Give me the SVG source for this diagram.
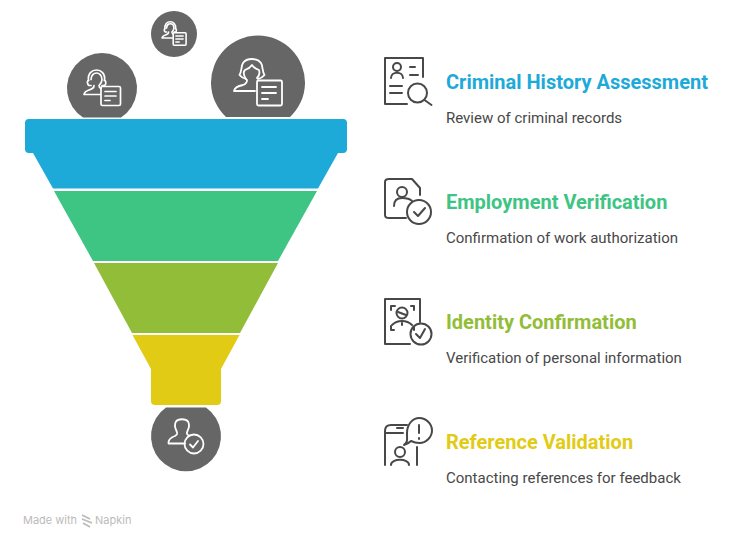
<svg xmlns="http://www.w3.org/2000/svg" width="744" height="548" viewBox="0 0 744 548">
<style>
.t{font-family:Roboto,"Liberation Sans",sans-serif;font-size:20px;font-weight:700}
.d{font-family:Roboto,"Liberation Sans",sans-serif;font-size:15px;fill:#484848}
.c{fill:#666}
.w{fill:none;stroke:#fff;stroke-linecap:round;stroke-linejoin:round}
.k{fill:none;stroke:#484848;stroke-width:2;stroke-linecap:round;stroke-linejoin:round}
</style>
<defs>
<g id="headset">
<path d="M4.500 11C3.500 4 8 0.500 12.500 0.500C17 0.500 21.500 4 20.500 11"/>
<path d="M4.500 11C3 11 3 15 5 16H7M20.500 11C22 11 22.500 15 20.500 16H18"/>
<path d="M7 10C7 5.500 10 3.500 12.500 3.500C15 3.500 18 5.500 18 10C18 13 16 15 15 16C15 18 16 18.500 17 19M10 16C10 19 8 19.500 5 20.500C2 21.500 0.500 22.500 0 25H16"/>
<rect x="17" y="17" width="19.500" height="19" rx="1.500"/>
<path d="M21 22H32M21 26.500H32M21 31H26"/>
</g>
</defs>
<g id="connectors"></g>
<g id="funnel-top-people">
<g id="person-left"><path class="c" d="M83 117.500A35 35 0 1 1 121 117.500Z"/><use href="#headset" class="w" stroke-width="1.700" transform="translate(84 69.500)"/></g>
<g id="person-small"><circle class="c" cx="174" cy="34" r="23"/><use href="#headset" class="w" stroke-width="2.400" transform="translate(162 21.500) scale(.66)"/></g>
<g id="person-big"><path class="c" d="M226 117A47 47 0 1 1 290 117Z"/>
<g class="w" stroke-width="1.800"><path d="M246 79C243 78 241 77 239.500 75C242 71 241 66 243 63C245 60 248 59 252 59C256 59 259 60 261 63C263 66 262 71 264.500 75C263 77 261 78 258 79"/><path d="M246 79C244 76 243 72 245 70C248 69 250 68 252 65C254 68 256 69 259 70C260 73 259 76 257 78M247 80C247 83 246 84 243 85C238 86 234.500 88 234 91H255"/><rect x="257" y="80.500" width="25" height="25" rx="1.500"/><path d="M262 87H276M262 93H276M262 99H268"/></g></g>
</g>
<g id="funnel">
<path id="layer-1" fill="#1eaad9" d="M29 119H343Q347 119 347 123V149Q347 153 343 153H338L318 188.500H53L33 153H29Q25 153 25 149V123Q25 119 29 119Z"/>
<path id="layer-2" fill="#3ec483" d="M54 191H317L278 261H93Z"/>
<path id="layer-3" fill="#92bd39" d="M94 263H278L240 333H132Z"/>
<path id="layer-4" fill="#e1cb14" d="M132.500 335H239.500L221 369V401Q221 405 217 405H155Q151 405 151 401V369Z"/>
</g>
<g id="person-bottom"><path class="c" d="M166 407.500H206A35 35 0 1 1 166 407.500Z"/>
<g class="w" stroke-width="1.800"><path d="M185 443.500H168.500C168 439 172 437 175 436C178 434.500 177.500 433 176.500 431C175 428 174.500 424 176 421.500C178 418.500 186 418.500 188 421.500C189.500 424 189 428 187.500 431C186.500 433 186.500 434.500 189 435.500"/><circle cx="194" cy="444" r="9.500"/><path d="M190 444.500L193 447.500L198 441"/></g></g>
<g id="item-1">
<path class="k" d="M423 77V58H385V104H407"/>
<circle class="k" cx="417.500" cy="93" r="9.500"/><path class="k" d="M424.500 100L431.500 105"/>
<circle class="k" cx="397" cy="67" r="4"/><path class="k" d="M391 78C391 71 403 71 403 78M410 67H415M410 75H418M390 86H402M390 93H402"/>
<text class="t" x="446" y="89" fill="#1eaad9">Criminal History Assessment</text>
<text class="d" x="446" y="123">Review of criminal records</text>
</g>
<g id="item-2">
<path class="k" d="M420 195V188L412 179H389Q385 179 385 182V215Q385 218 389 218H406"/>
<circle class="k" cx="402" cy="192" r="5"/><path class="k" d="M394 206C394 200 398 198 402 198C405 198 410 199 412 201"/>
<circle class="k" cx="419" cy="212" r="12"/><path class="k" d="M414 212L418 216L425 208"/>
<text class="t" x="446" y="209" fill="#3ec483">Employment Verification</text>
<text class="d" x="446" y="243">Confirmation of work authorization</text>
</g>
<g id="item-3">
<path class="k" d="M420 322V299H385V344H410"/>
<path class="k" d="M391 310V306H395M411 306H414V310M391 326V330H394M414 327V330"/>
<circle class="k" cx="402" cy="313" r="5.500"/><path class="k" d="M398 312L406 315M392 325C395 322 399 321 402 321C405 321 409 322 412 325M402 323V325"/>
<circle class="k" cx="421" cy="334" r="10.500"/><path class="k" d="M416 334L420 338L425 329"/>
<text class="t" x="446" y="329" fill="#92bd39">Identity Confirmation</text>
<text class="d" x="446" y="363">Verification of personal information</text>
</g>
<g id="item-4">
<path class="k" d="M385 465V431Q385 425 391 425H407M385 433H403M397 428H403M417 447V465"/>
<path class="k" d="M404 445C408 441 407 441 407 433C407 425 412 418 419.500 418C426 418 432 424 432 430.500C432 437 426 443 419.500 443C416 443 413 442 411 441C409 443 407 444 404 445Z"/>
<path class="k" d="M419 425V433M419 438V439"/>
<circle class="k" cx="400" cy="452" r="5"/><path class="k" d="M391 465C391 458 409 458 409 465"/>
<text class="t" x="446" y="449" fill="#e1cb14">Reference Validation</text>
<text class="d" x="446" y="483">Contacting references for feedback</text>
</g>
<g id="footer">
<text x="23" y="524" font-family="Inter,'Noto Sans',sans-serif" font-size="11px" fill="#bbb">Made with</text>
<path d="M82 515L90 519M82 519L92 523M83 523L90 527" fill="none" stroke="#bbb" stroke-width="1.700"/>
<text x="95" y="524" font-family="Inter,'Noto Sans',sans-serif" font-size="11px" fill="#bbb">Napkin</text>
</g>
</svg>
